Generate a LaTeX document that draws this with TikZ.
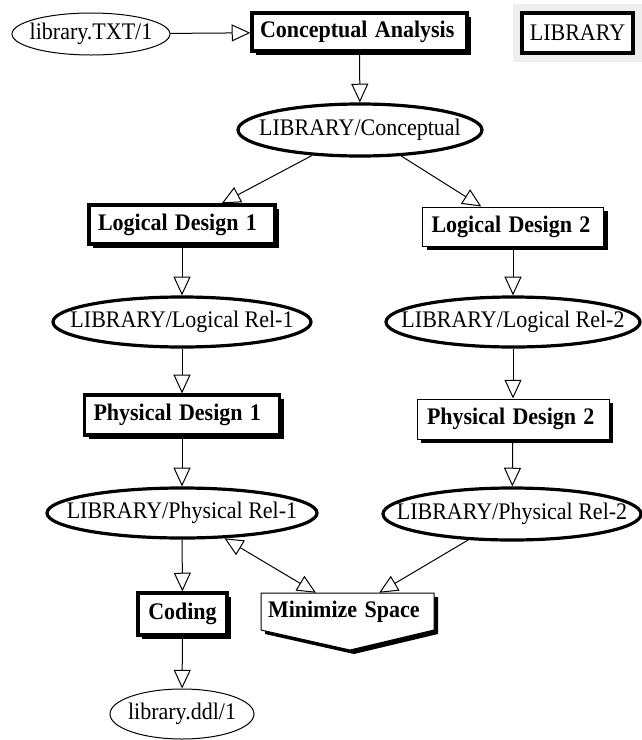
\documentclass[tikz,border=0pt]{standalone}
\usepackage{fontspec}
\setmainfont{Liberation Serif}
\usetikzlibrary{arrows.meta,shapes.geometric,shadows}
\newcommand{\tall}[1]{\scalebox{1}[1.08]{#1}}
\begin{document}
\begin{tikzpicture}[x=0.75pt,y=-0.75pt,
  every node/.style={font=\fontsize{16.5}{19}\selectfont},
  >={Triangle[length=14pt,width=12.75pt,fill=white]},
  conn/.style={->,line width=0.75pt},
  thickbox/.style={draw,rectangle,line width=2.4pt,fill=white,inner ysep=0pt},
  thinbox/.style={draw,rectangle,line width=0.75pt,fill=white,inner ysep=0pt},
  shadowed/.style={drop shadow={shadow xshift=3pt,shadow yshift=-3pt,fill=black,opacity=1}},
  thickell/.style={draw,ellipse,line width=2.4pt,inner sep=0pt,fill=white},
  thinell/.style={draw,ellipse,line width=0.75pt,inner sep=0pt,fill=white},
  lbl/.style={font=\fontsize{16.5}{19}\selectfont\bfseries,align=left}
]
\useasboundingbox[fill=white] (0,0) rectangle (642,740);

% grey legend background
\fill[gray!13] (513,4) rectangle (642,62);

% Minimize Space pentagon (shadow then body)
\fill[black,shift={(4,4)}] (261,593) -- (434,593) -- (434,630) -- (350,650) -- (261,630) -- cycle;
\filldraw[fill=white,draw=black,line width=0.75pt] (261,593) -- (434,593) -- (434,630) -- (350,650) -- (261,630) -- cycle;

% nodes
\node[thinell,minimum width=118.5pt,minimum height=31.5pt] (txt) at (91,34) {\makebox[0pt]{\tall{library.TXT/1}}};
\node[thickbox,shadowed,lbl,text width=149.25pt,inner xsep=6pt,minimum height=28.5pt] (ca) at (359.5,32) {\tall{Conceptual Analysis}};
\node[thickbox,minimum width=83.25pt,minimum height=30pt,inner xsep=0pt] (lib) at (577.5,33) {\tall{LIBRARY}};

\node[thickell,minimum width=183pt,minimum height=39pt] (conc) at (360,130) {\makebox[0pt]{\tall{LIBRARY/Conceptual}}};

\node[thickbox,shadowed,lbl,text width=126pt,inner xsep=6.75pt,minimum height=29.25pt] (ld1) at (182,224.5) {\tall{Logical Design 1}};
\node[thinbox,shadowed,lbl,text width=122.25pt,inner xsep=6.75pt,minimum height=29.25pt] (ld2) at (513,226.5) {\tall{Logical Design 2}};

\node[thickell,minimum width=193.5pt,minimum height=37.5pt] (lr1) at (182,322) {\makebox[0pt]{\tall{LIBRARY/Logical Rel-1}}};
\node[thickell,minimum width=190.5pt,minimum height=37.5pt] (lr2) at (513,322) {\makebox[0pt]{\tall{LIBRARY/Logical Rel-2}}};

\node[thickbox,shadowed,lbl,text width=132.75pt,inner xsep=6.75pt,minimum height=30pt] (pd1) at (182,415) {\tall{Physical Design 1}};
\node[thinbox,shadowed,lbl,text width=129pt,inner xsep=7.5pt,minimum height=30pt] (pd2) at (513,419) {\tall{Physical Design 2}};

\node[thickell,minimum width=202.5pt,minimum height=37.5pt] (pr1) at (182,513) {\makebox[0pt]{\tall{LIBRARY/Physical Rel-1}}};
\node[thickell,minimum width=193.5pt,minimum height=39pt] (pr2) at (512,514) {\makebox[0pt]{\tall{LIBRARY/Physical Rel-2}}};

\node[thickbox,shadowed,lbl,minimum width=66.75pt,minimum height=31.5pt,inner xsep=0pt] (coding) at (182.5,614) {\tall{Coding}};
\node[rectangle,lbl,text width=119.25pt,inner xsep=5.25pt,inner ysep=0pt,minimum height=27.75pt] (ms) at (347.5,611.5) {\tall{Minimize Space}};

\node[thinell,minimum width=108pt,minimum height=37.5pt] (ddl) at (182,714) {\makebox[0pt]{\tall{library.ddl/1}}};

% connectors
\draw[conn] (txt) -- (ca);
\draw[conn] (ca) -- (conc);
\draw[conn] (conc) -- (ld1);
\draw[conn] (conc) -- (ld2);
\draw[conn] (ld1) -- (lr1);
\draw[conn] (ld2) -- (lr2);
\draw[conn] (lr1) -- (pd1);
\draw[conn] (lr2) -- (pd2);
\draw[conn] (pd1) -- (pr1);
\draw[conn] (pd2) -- (pr2);
\draw[conn] (pr1) -- (coding);
\draw[conn] (coding) -- (ddl);
\draw[<->,line width=0.75pt] (pr1) -- (ms);
\draw[conn] (pr2) -- (ms);
\end{tikzpicture}
\end{document}
